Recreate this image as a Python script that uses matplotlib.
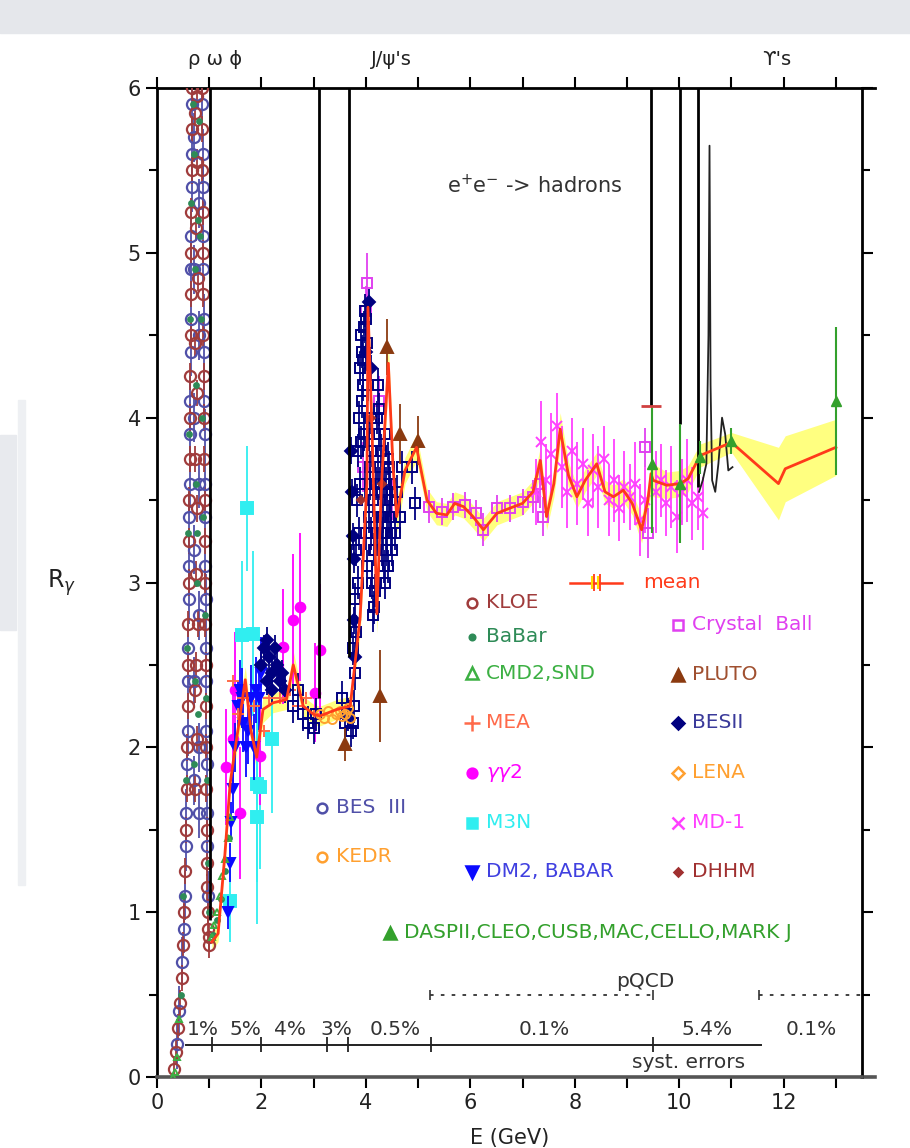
import matplotlib.pyplot as plt
from matplotlib.patches import Rectangle

plt.rcParams['font.family'] = ['DejaVu Sans']

# ---------------- data (E in GeV, R) ----------------
# rho / omega region: rising and falling edges of the peak (R above 6 is off scale)
kloe_E = [0.33, 0.37, 0.41, 0.44, 0.47, 0.50, 0.52, 0.54, 0.555, 0.565, 0.575, 0.585, 0.595, 0.60,
          0.61, 0.615, 0.62, 0.63, 0.635, 0.64, 0.645, 0.65, 0.655, 0.66, 0.665, 0.67, 0.675,
          0.86, 0.865, 0.87, 0.875, 0.88, 0.885, 0.89, 0.895, 0.90, 0.905, 0.91, 0.915, 0.92,
          0.925, 0.93, 0.935, 0.94, 0.945, 0.95, 0.955, 0.96, 0.97, 0.98, 0.99, 1.00,
          0.73, 0.77, 0.74, 0.78, 0.72, 0.76, 0.73, 0.77, 0.74, 0.78, 0.72, 0.76, 0.73, 0.77, 0.75]
kloe_R = [0.05, 0.15, 0.30, 0.45, 0.60, 0.80, 1.00, 1.25, 1.50, 1.75, 2.00, 2.25, 2.50, 2.75,
          3.00, 3.25, 3.50, 3.75, 4.00, 4.25, 4.50, 4.75, 5.00, 5.25, 5.50, 5.75, 6.00,
          6.00, 5.75, 5.50, 5.25, 5.00, 4.75, 4.50, 4.25, 4.00, 3.75, 3.50, 3.25, 3.00,
          2.75, 2.50, 2.25, 2.00, 1.75, 1.50, 1.30, 1.15, 1.00, 0.90, 0.85, 0.80,
          5.85, 5.55, 5.15, 4.85, 4.45, 4.15, 3.75, 3.45, 3.05, 2.75, 2.35, 2.05, 1.75, 5.95, 2.50]

bes3_E = [0.39, 0.43, 0.48, 0.51, 0.53, 0.55, 0.56, 0.575, 0.585, 0.595, 0.60, 0.61, 0.615, 0.62,
          0.625, 0.635, 0.64, 0.645, 0.65, 0.655, 0.66, 0.665, 0.67, 0.675,
          0.87, 0.875, 0.88, 0.885, 0.89, 0.895, 0.90, 0.905, 0.91, 0.915, 0.92, 0.925, 0.93,
          0.935, 0.94, 0.945, 0.95, 0.955, 0.96, 0.975,
          0.70, 0.80, 0.71, 0.81, 0.70, 0.80, 0.71, 0.81, 0.70, 0.80, 0.71, 0.81]
bes3_R = [0.20, 0.40, 0.70, 0.90, 1.10, 1.40, 1.60, 1.90, 2.10, 2.40, 2.60, 2.90, 3.10, 3.40,
          3.60, 3.90, 4.10, 4.40, 4.60, 4.90, 5.10, 5.40, 5.60, 5.90,
          5.90, 5.60, 5.40, 5.10, 4.90, 4.60, 4.40, 4.10, 3.90, 3.60, 3.40, 3.10, 2.90,
          2.60, 2.40, 2.10, 1.90, 1.60, 1.40, 1.10,
          5.70, 5.30, 4.90, 4.50, 4.00, 3.60, 3.20, 2.80, 2.40, 2.00, 1.80, 1.60]

babar_E = [0.45, 0.50, 0.55, 0.58, 0.60, 0.62, 0.64, 0.66, 0.68, 0.70, 0.72, 0.75, 0.78, 0.80,
           0.83, 0.85, 0.87, 0.89, 0.91, 0.93, 0.95, 0.97, 0.99, 1.08, 1.15, 1.22, 1.30, 1.38,
           0.74, 0.76, 0.73, 0.79, 0.71, 0.77]
babar_R = [0.50, 1.10, 1.80, 2.60, 3.30, 3.90, 4.60, 5.30, 5.90, 5.60, 4.90, 4.20, 5.20, 5.80,
           5.10, 4.60, 4.00, 3.40, 2.80, 2.30, 1.80, 1.30, 1.00, 0.86, 0.95, 1.08, 1.25, 1.45,
           3.60, 3.00, 2.40, 2.20, 1.90, 3.30]

cmd2_E = [0.30, 0.34, 0.38, 0.42, 1.05, 1.10, 1.15, 1.20, 1.25, 1.30, 1.35, 1.40]
cmd2_R = [0.00, 0.03, 0.12, 0.35, 0.85, 0.92, 1.00, 1.10, 1.22, 1.32, 1.45, 1.58]

# 1 - 3 GeV
dm2_E = [1.35, 1.40, 1.42, 1.45, 1.50, 1.55, 1.58, 1.62, 1.65, 1.70, 1.75, 1.80, 1.85, 1.90, 1.95, 2.00]
dm2_R = [1.00, 1.30, 1.55, 1.75, 2.00, 2.25, 2.35, 2.30, 2.15, 2.00, 2.10, 2.30, 2.00, 2.35, 2.30, 2.45]
dm2_err = [0.10, 0.12, 0.12, 0.15, 0.15, 0.15, 0.18, 0.18, 0.18, 0.18, 0.20, 0.20, 0.20, 0.20, 0.20, 0.22]

m3n_E = [1.40, 1.62, 1.72, 1.84, 1.91, 1.91, 1.97, 2.20]
m3n_R = [1.07, 2.68, 3.45, 2.69, 1.78, 1.58, 1.76, 2.05]
m3n_err = [0.25, 0.45, 0.38, 0.50, 0.60, 0.65, 0.50, 0.45]

gg2_E = [1.33, 1.45, 1.50, 1.59, 1.97, 2.42, 2.61, 2.74, 3.03, 3.12]
gg2_R = [1.88, 2.05, 2.35, 1.60, 1.95, 2.61, 2.77, 2.85, 2.33, 2.59]
gg2_err = [0.35, 0.30, 0.35, 0.40, 0.30, 0.35, 0.40, 0.45, 0.30, 0.40]

mea_E = [1.45, 1.55, 1.65, 1.85, 2.05, 2.15, 2.35, 2.55, 2.70, 2.85, 3.00]
mea_R = [2.40, 2.20, 2.30, 2.25, 2.10, 2.30, 2.30, 2.35, 2.25, 2.30, 2.20]

bes2_E = [2.00, 2.05, 2.10, 2.10, 2.15, 2.20, 2.20, 2.25, 2.30, 2.35, 2.40, 2.45,
          3.72, 3.74, 3.75, 3.77, 3.78, 3.80, 4.00, 4.05, 4.10]
bes2_R = [2.50, 2.60, 2.65, 2.40, 2.55, 2.45, 2.35, 2.60, 2.50, 2.40, 2.45, 2.35,
          3.80, 3.55, 3.28, 3.14, 2.77, 2.55, 4.40, 4.70, 4.30]

bes_sq_E = [2.60, 2.70, 2.80, 2.90, 3.00, 3.05, 3.55, 3.60, 3.65,
            3.72, 3.75, 3.78, 3.80, 3.82, 3.84, 3.86, 3.88, 3.90, 3.92, 3.94, 3.96, 3.98, 4.00,
            4.02, 4.04, 4.06, 4.08, 4.10, 4.12, 4.14, 4.16, 4.18, 4.20, 4.22, 4.24, 4.26, 4.28,
            4.30, 4.32, 4.34, 4.36, 4.38, 4.40, 4.42, 4.44, 4.46, 4.48, 4.50, 4.55, 4.60, 4.65,
            4.70, 4.88, 4.94,
            3.76, 3.79, 3.81, 3.83, 3.85, 3.87, 3.89, 3.91, 3.93, 3.95, 3.97, 3.99, 4.01, 4.03,
            4.05, 4.07, 4.09, 4.11, 4.13, 4.15, 4.17, 4.19, 4.21, 4.23, 4.25, 4.27, 4.29, 4.31,
            4.33, 4.35, 4.37, 4.39, 4.41, 4.43, 4.45, 4.47, 4.49]
bes_sq_R = [2.25, 2.35, 2.20, 2.15, 2.12, 2.20, 2.30, 2.15, 2.20,
            2.10, 2.15, 2.25, 2.45, 2.70, 3.00, 3.30, 3.60, 3.85, 4.10, 4.35, 4.55, 4.65, 4.60,
            4.45, 4.20, 3.90, 3.60, 3.30, 3.00, 2.80, 2.85, 3.20, 3.60, 4.00, 4.20, 4.05, 3.80,
            3.55, 3.30, 3.10, 3.00, 3.20, 3.50, 3.75, 3.70, 3.50, 3.30, 3.20, 3.30, 3.55, 3.40,
            3.70, 3.70, 3.48,
            2.60, 2.90, 3.20, 3.50, 3.80, 4.00, 4.30, 4.50, 4.40, 4.20, 3.90, 3.60, 3.30, 3.10,
            3.40, 3.70, 4.00, 3.80, 3.50, 3.20, 2.95, 3.00, 3.30, 3.70, 3.90, 3.60, 3.40, 3.20,
            3.40, 3.60, 3.90, 3.60, 3.30, 3.10, 3.40, 3.60, 3.40]

kedr_E = [3.12, 3.20, 3.27, 3.35, 3.42, 3.50, 3.55, 3.60, 3.65, 3.70]
kedr_R = [2.20, 2.18, 2.22, 2.17, 2.20, 2.22, 2.19, 2.20, 2.24, 2.18]

pluto_E = [3.60, 4.27, 4.40, 4.66, 5.00]
pluto_R = [2.02, 2.31, 4.43, 3.90, 3.86]
pluto_err = [0.10, 0.28, 0.17, 0.18, 0.15]

cb_E = [3.95, 4.00, 4.02, 4.25, 4.50, 5.20, 5.45, 5.67, 5.90, 6.10, 6.25, 6.51, 6.76,
        7.00, 7.20, 7.34, 7.40, 9.35, 9.40]
cb_R = [3.70, 4.65, 4.82, 4.10, 3.50, 3.46, 3.43, 3.46, 3.47, 3.42, 3.32, 3.45, 3.45,
        3.49, 3.52, 3.60, 3.40, 3.82, 3.30]
cb_err = [0.15, 0.15, 0.18, 0.15, 0.12, 0.10, 0.08, 0.08, 0.08, 0.08, 0.10, 0.08, 0.08,
          0.08, 0.10, 0.15, 0.12, 0.12, 0.15]

md1_E = [7.25, 7.35, 7.45, 7.55, 7.65, 7.75, 7.85, 7.95, 8.05, 8.15, 8.25, 8.35, 8.45, 8.55,
         8.65, 8.75, 8.85, 8.95, 9.05, 9.15, 9.25, 9.35, 9.55, 9.65, 9.75, 9.85, 9.95, 10.05,
         10.15, 10.25, 10.35, 10.45]
md1_R = [3.55, 3.85, 3.62, 3.78, 3.95, 3.70, 3.55, 3.80, 3.60, 3.72, 3.48, 3.68, 3.58, 3.75,
         3.50, 3.62, 3.45, 3.58, 3.52, 3.60, 3.38, 3.50, 3.55, 3.62, 3.48, 3.58, 3.40, 3.55,
         3.62, 3.48, 3.52, 3.42]
md1_err = [0.20, 0.25, 0.22, 0.25, 0.20, 0.25, 0.22, 0.20, 0.25, 0.22, 0.20, 0.22, 0.25, 0.20,
           0.22, 0.25, 0.20, 0.22, 0.20, 0.25, 0.22, 0.20, 0.25, 0.22, 0.20, 0.25, 0.22, 0.20,
           0.25, 0.22, 0.20, 0.22]

dhhm_E = [3.90, 4.10, 4.30]
dhhm_R = [3.50, 4.00, 3.60]

dasp_E = [9.47, 10.02, 10.40, 11.00, 13.00]
dasp_R = [3.72, 3.60, 3.76, 3.86, 4.10]
dasp_lo = [0.42, 0.36, 0.10, 0.08, 0.45]
dasp_hi = [0.35, 0.36, 0.10, 0.08, 0.45]

# mean R with its uncertainty band
mean_E = [1.05, 1.17, 1.30, 1.40, 1.50, 1.59, 1.69, 1.80, 1.91, 2.03, 2.22, 2.48, 2.61, 2.80,
          3.00, 3.12, 3.44, 3.70, 3.89, 4.02, 4.04, 4.12, 4.21, 4.30, 4.43, 4.52, 4.59, 4.75,
          4.97, 5.17, 5.35, 5.55, 5.70, 5.87, 6.05, 6.25, 6.51, 6.75, 7.00, 7.20, 7.34, 7.46,
          7.60, 7.72, 7.88, 8.04, 8.20, 8.42, 8.58, 8.74, 8.93, 9.10, 9.28, 9.40, 9.46, 9.50,
          9.76, 10.02, 10.17, 10.40, 11.00, 11.90, 12.03, 13.00]
mean_R = [0.82, 0.87, 1.35, 1.78, 2.00, 2.19, 2.41, 2.10, 1.94, 2.23, 2.27, 2.29, 2.50, 2.25,
          2.20, 2.19, 2.23, 2.25, 2.79, 3.60, 4.67, 3.90, 2.81, 3.60, 4.33, 3.70, 3.40, 3.68,
          3.82, 3.50, 3.42, 3.41, 3.48, 3.46, 3.40, 3.32, 3.42, 3.45, 3.48, 3.55, 3.74, 3.40,
          3.60, 3.93, 3.65, 3.52, 3.62, 3.72, 3.55, 3.52, 3.56, 3.48, 3.32, 3.50, 3.66, 3.62,
          3.59, 3.60, 3.63, 3.77, 3.85, 3.60, 3.69, 3.82]
mean_err = [0.05, 0.05, 0.06, 0.06, 0.08, 0.08, 0.08, 0.08, 0.08, 0.08, 0.06, 0.06, 0.08, 0.06,
            0.06, 0.06, 0.06, 0.06, 0.10, 0.12, 0.15, 0.12, 0.12, 0.12, 0.12, 0.10, 0.10, 0.08,
            0.08, 0.07, 0.07, 0.07, 0.07, 0.07, 0.07, 0.07, 0.07, 0.07, 0.07, 0.07, 0.08, 0.08,
            0.08, 0.10, 0.08, 0.07, 0.07, 0.07, 0.07, 0.07, 0.07, 0.07, 0.08, 0.08, 0.10, 0.10,
            0.08, 0.08, 0.08, 0.07, 0.06, 0.22, 0.20, 0.17]

# narrow resonances drawn as vertical lines (position, lowest R)
res_E = [1.02, 3.097, 3.686, 9.46, 10.023, 10.355]
res_low = [0.95, 2.30, 2.55, 4.07, 3.96, 3.58]

# Upsilon(4S) region curve
ups_E = [10.38, 10.45, 10.52, 10.56, 10.58, 10.60, 10.63, 10.69, 10.75, 10.82, 10.88, 10.94, 11.02]
ups_R = [3.55, 3.62, 3.72, 4.50, 5.65, 4.20, 3.62, 3.55, 3.72, 4.00, 3.90, 3.68, 3.70]

# systematic error bands along the bottom
syst_edges = [1.05, 2.0, 3.25, 3.65, 5.25, 9.5]
syst_labels = ['1%', '5%', '4%', '3%', '0.5%', '0.1%', '5.4%', '0.1%']
syst_label_E = [0.88, 1.69, 2.55, 3.43, 4.56, 7.41, 10.53, 12.53]

# ---------------- colours ----------------
C_KLOE = '#a03c3c'
C_BABAR = '#2e8b57'
C_CMD = '#3cb043'
C_MEA = '#ff6a4a'
C_GG2 = '#ff00ff'
C_M3N = '#30eef0'
C_DM2 = '#0a0aff'
C_CB = '#e040f0'
C_PLUTO = '#8b3a10'
C_BES2 = '#00007f'
C_LENA = '#ffa030'
C_MD1 = '#ff40ff'
C_DHHM = '#a03030'
C_BES3 = '#5050a8'
C_KEDR = '#ffa030'
C_DASP = '#33a02c'
C_MEAN = '#ff3a1a'

fig = plt.figure(figsize=(9.1, 11.48), dpi=100)
# grey page decoration of the screenshot
fig.patches.append(Rectangle((0, 1 - 33 / 1148), 1, 33 / 1148, transform=fig.transFigure,
                             color='#e5e7eb', zorder=0))
fig.patches.append(Rectangle((0, 1 - 630 / 1148), 16 / 910, 195 / 1148, transform=fig.transFigure,
                             color='#e8eaee', zorder=0))
fig.patches.append(Rectangle((18 / 910, 1 - 885 / 1148), 7 / 910, 485 / 1148, transform=fig.transFigure,
                             color='#eef0f3', zorder=0))

ax = fig.add_axes([157 / 910, 1 - 1077 / 1148, 705 / 910, 989 / 1148])
ax.set_xlim(0, 13.5)
ax.set_ylim(0, 6)

# band + mean
lo = [r - e for r, e in zip(mean_R, mean_err)]
hi = [r + e for r, e in zip(mean_R, mean_err)]
ax.fill_between(mean_E, lo, hi, color='#ffff80', lw=0, zorder=2)

# resonance lines
ax.vlines(res_E, res_low, 6, color='black', lw=2, zorder=6)
ax.plot(ups_E, ups_R, color='#222222', lw=1.3, zorder=6)


def points(x, y, err=None, marker='o', color='k', fill=True, ms=7, mew=1.4, z=4):
    ax.errorbar(x, y, yerr=err, fmt=marker, ms=ms, mew=mew, color=color, mec=color,
                mfc=color if fill else 'none', elinewidth=1.3, capsize=0, zorder=z)


points(bes3_E, bes3_R, [0.15] * len(bes3_E), 'o', C_BES3, fill=False, ms=8, mew=1.6, z=4)
points(kloe_E, kloe_R, [0.08] * len(kloe_E), 'o', C_KLOE, fill=False, ms=8, mew=1.6, z=4)
points(babar_E, babar_R, None, 'o', C_BABAR, ms=3.5, z=5)
points(cmd2_E, cmd2_R, None, '^', C_CMD, fill=False, ms=5, z=5)
points(dm2_E, dm2_R, dm2_err, 'v', C_DM2, ms=7, z=4)
points(m3n_E, m3n_R, m3n_err, 's', C_M3N, ms=8, z=3)
points(gg2_E, gg2_R, gg2_err, 'o', C_GG2, ms=7, z=3)
points(mea_E, mea_R, None, '+', C_MEA, ms=8, z=4)
points(bes2_E, bes2_R, [0.08] * len(bes2_E), 'D', C_BES2, ms=6.5, z=4)
points(bes_sq_E, bes_sq_R, [0.1] * len(bes_sq_E), 's', C_BES2, fill=False, ms=7, z=4)
points(kedr_E, kedr_R, None, 'o', C_KEDR, fill=False, ms=6.5, z=5)
points(cb_E, cb_R, cb_err, 's', C_CB, fill=False, ms=7, z=3)
points(md1_E, md1_R, md1_err, 'x', C_MD1, ms=7, z=3)
points(dhhm_E, dhhm_R, None, 'D', C_DHHM, ms=4, z=5)
points(pluto_E, pluto_R, pluto_err, '^', C_PLUTO, ms=9, z=5)
ax.errorbar(dasp_E, dasp_R, yerr=[dasp_lo, dasp_hi], fmt='^', ms=7, color=C_DASP,
            elinewidth=1.5, capsize=0, zorder=7)
ax.plot([res_E[3]], [res_low[3]], marker='_', ms=14, mew=2, color='#d04040', zorder=7)

ax.plot(mean_E, mean_R, color=C_MEAN, lw=2, zorder=6)

# ---------------- legend written in place ----------------
legend_left = [('KLOE', 'o', C_KLOE, False, 2.876),
               ('BaBar', 'o', C_BABAR, True, 2.67),
               ('CMD2,SND', '^', C_CMD, False, 2.45),
               ('MEA', '+', C_MEA, True, 2.148),
               ('$\\gamma\\gamma$2', 'o', C_GG2, True, 1.845),
               ('M3N', 's', C_M3N, True, 1.541),
               ('DM2, BABAR', 'v', C_DM2, True, 1.244)]
legend_right = [('Crystal  Ball', 's', C_CB, False, 2.743),
                ('PLUTO', '^', C_PLUTO, True, 2.439),
                ('BESII', 'D', C_BES2, True, 2.148),
                ('LENA', 'D', C_LENA, False, 1.845),
                ('MD-1', 'x', C_MD1, True, 1.541),
                ('DHHM', 'D', C_DHHM, True, 1.244)]
legend_extra = [('BES  III', 'o', C_BES3, False, 3.16, 1.632),
                ('KEDR', 'o', C_KEDR, False, 3.16, 1.335),
                ('DASPII,CLEO,CUSB,MAC,CELLO,MARK J', '^', C_DASP, True, 4.46, 0.874)]

text_col = {C_BES2: '#3a3a9a', C_DM2: '#4040e0', C_PLUTO: '#a05030'}


def legend_item(label, marker, color, fill, x, y):
    size = {'o': 7, 's': 7, 'D': 6, '^': 8, 'v': 8, '+': 11, 'x': 8}[marker]
    if label == 'BaBar':
        size = 4
    if label == 'DHHM':
        size = 4.5
    ax.plot([x], [y], marker=marker, ms=size, color=color, mec=color,
            mfc=color if fill else 'none', mew=1.8, zorder=8)
    ax.text(x + 0.27, y, label, color=text_col.get(color, color), fontsize=14.5,
            va='center', ha='left', zorder=8)


for lab, m, c, f, y in legend_left:
    legend_item(lab, m, c, f, 6.03, y)
for lab, m, c, f, y in legend_right:
    legend_item(lab, m, c, f, 9.98, y)
for lab, m, c, f, x, y in legend_extra:
    legend_item(lab, m, c, f, x, y)

ax.plot([7.91, 8.91], [3.0, 3.0], color=C_MEAN, lw=1.8, zorder=8)
ax.vlines([8.33, 8.45], 2.96, 3.04, color='#ffe000', lw=1.5, zorder=8)
ax.vlines([8.36, 8.48], 2.95, 3.05, color=C_MEAN, lw=1.3, zorder=8)
ax.text(9.31, 3.0, 'mean', color=C_MEAN, fontsize=14.5, va='center', ha='left')

ax.text(5.56, 5.41, 'e$^{+}$e$^{-}$ -> hadrons', fontsize=15, color='#333333', va='center')

# ---------------- pQCD and systematic error annotations ----------------
ax.plot([5.23, 9.49], [0.5, 0.5], ls=(0, (2, 4)), color='#333333', lw=1.3)
ax.plot([11.53, 13.56], [0.5, 0.5], ls=(0, (2, 4)), color='#333333', lw=1.3, clip_on=False)
ax.vlines([5.23, 9.49, 11.53], 0.47, 0.53, color='#333333', lw=1.2)
ax.text(9.35, 0.58, 'pQCD', fontsize=14.5, color='#333333', ha='center', va='center')

ax.plot([0.55, 11.57], [0.194, 0.194], color='#222222', lw=1.4, zorder=7)
ax.vlines(syst_edges, 0.15, 0.24, color='#222222', lw=1.3, zorder=7)
for lab, e in zip(syst_labels, syst_label_E):
    ax.text(e, 0.29, lab, fontsize=14.5, color='#333333', ha='center', va='center', zorder=8)
ax.text(9.1, 0.085, 'syst. errors', fontsize=14.5, color='#333333', ha='left', va='center')

# top labels
ax.text(1.11, 6.17, 'ρ ω ϕ', fontsize=14, ha='center', va='center', color='#222222')
ax.text(4.49, 6.17, 'J/ψ\'s', fontsize=14, ha='center', va='center', color='#222222')
ax.text(11.86, 6.17, 'ϒ\'s', fontsize=14, ha='center', va='center', color='#222222')

# ---------------- axes frame and ticks ----------------
for side in ['left', 'right', 'top', 'bottom']:
    ax.spines[side].set_linewidth(2)
ax.spines['bottom'].set_color('#555555')
ax.spines['bottom'].set_linewidth(2.6)
ax.plot([13.5, 13.75], [6, 6], color='black', lw=2, clip_on=False)
ax.plot([13.5, 13.75], [0, 0], color='#555555', lw=2.6, clip_on=False)

ax.set_xticks(range(0, 14))
ax.set_xticklabels([str(v) if v % 2 == 0 else '' for v in range(0, 14)])
ax.set_yticks(range(0, 7))
ax.set_yticks([v + 0.5 for v in range(6)], minor=True)
ax.tick_params(axis='both', which='major', direction='out', length=8, width=1.5,
               labelsize=15, top=True, right=True, labelcolor='#222222')
ax.tick_params(axis='both', which='minor', direction='out', length=6, width=1.5, right=True)

fig.text(62 / 910, 1 - 583 / 1148, 'R$_\\gamma$', fontsize=17, ha='center', va='center',
         color='#222222')
fig.text(510 / 910, 1 - 1138 / 1148, 'E (GeV)', fontsize=15, ha='center', va='center',
         color='#222222')

fig.savefig('out.png', dpi=100)
